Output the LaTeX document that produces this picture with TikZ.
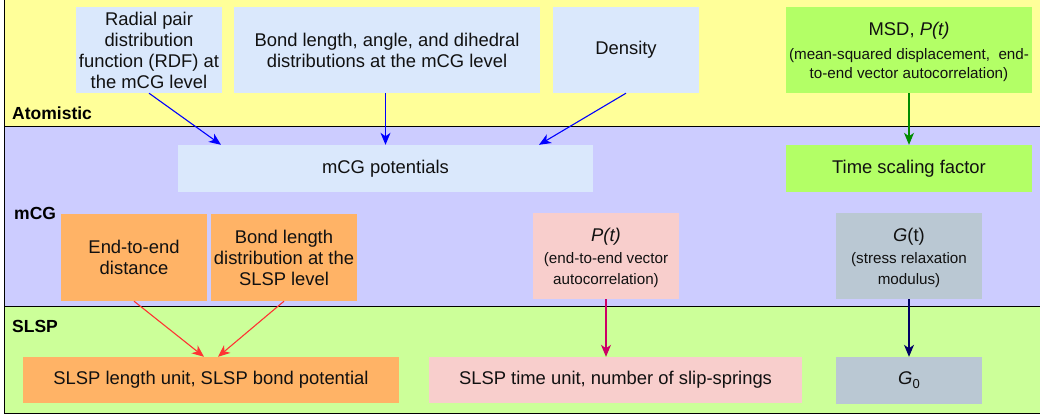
\documentclass[tikz,border=0pt]{standalone}
\usepackage{fontspec}
\setmainfont{Liberation Sans}
\usetikzlibrary{arrows.meta}
\definecolor{bandA}{HTML}{FFFF99}
\definecolor{bandB}{HTML}{CCCCFF}
\definecolor{bandC}{HTML}{CCFF99}
\definecolor{lblue}{HTML}{DAE8FC}
\definecolor{lgreen}{HTML}{B3FF66}
\definecolor{lorange}{HTML}{FFB366}
\definecolor{lpink}{HTML}{F8CECC}
\definecolor{lgray}{HTML}{BAC8D3}
\definecolor{cblue}{HTML}{0000FF}
\definecolor{cgreen}{HTML}{008C00}
\definecolor{cred}{HTML}{FF3333}
\definecolor{cmag}{HTML}{CC0066}
\definecolor{cnavy}{HTML}{000066}
\definecolor{txt}{HTML}{111111}
\newcommand{\mainf}{\fontsize{18.4}{21}\selectfont}
\newcommand{\smallf}{\fontsize{15.2}{20}\selectfont}
\newcommand{\boldf}{\fontsize{17.5}{20}\selectfont\bfseries}
\newcommand{\stk}[2]{\raisebox{#1}[\height][\depth]{\begin{tabular}{@{}c@{}}#2\end{tabular}}}
\tikzset{
  band/.style={draw=black, line width=1pt},
  box/.style={rectangle, inner sep=0pt, align=center, text=txt, font=\mainf},
  lbl/.style={anchor=west, inner sep=0pt, font=\boldf, text=black},
  arr/.style={line width=1.1pt, -{Stealth[length=12pt,width=10pt,inset=3.5pt]}},
}
\begin{document}
\begin{tikzpicture}[x=1pt,y=-1pt]
\useasboundingbox (0,0) rectangle (1040,414);
% bands
\path[band, fill=bandA] (4,-2) rectangle (1042,127);
\path[band, fill=bandB] (4,127) rectangle (1042,306);
\path[band, fill=bandC] (4,306) rectangle (1042,413);
\node[lbl] (atom) at (12,113) {Atomistic};
\node[lbl] (mcg) at (14,213) {mCG};
\node[lbl] (slsp) at (12,326) {SLSP};
% Atomistic boxes
\node[box, fill=lblue, minimum width=146pt, minimum height=86pt] (rdf) at (149,50)
  {Radial pair\\distribution\\function (RDF) at\\the mCG level};
\node[box, fill=lblue, minimum width=306pt, minimum height=86pt] (bond) at (387,50)
  {Bond length, angle, and dihedral\\distributions at the mCG level};
\node[box, fill=lblue, minimum width=146pt, minimum height=86pt] (dens) at (626,50)
  {Density};
\node[box, fill=lgreen, minimum width=246pt, minimum height=86pt] (msd) at (909,50)
  {\stk{-3pt}{MSD, \textit{P(t)}\\[3pt]\smallf (mean-squared displacement,~~end-\\[-2pt]\smallf to-end vector autocorrelation)}};
% mCG boxes
\node[box, fill=lblue, minimum width=415pt, minimum height=47pt] (pot) at (385.5,168.5)
  {mCG potentials};
\node[box, fill=lgreen, minimum width=246pt, minimum height=47pt] (tsf) at (909,168.5)
  {Time scaling factor};
\node[box, fill=lorange, minimum width=146pt, minimum height=87pt] (e2e) at (134,257.5)
  {End-to-end\\distance};
\node[box, fill=lorange, minimum width=146pt, minimum height=87pt] (bld) at (284,257.5)
  {Bond length\\distribution at the\\SLSP level};
\node[box, fill=lpink, minimum width=146pt, minimum height=86pt] (pt) at (606,256)
  {\stk{-3pt}{\textit{P(t)}\\[1pt]\smallf (end-to-end vector\\\smallf autocorrelation)}};
\node[box, fill=lgray, minimum width=146pt, minimum height=86pt] (gt) at (909,256)
  {\stk{-3pt}{\textit{G}(t)\\[1pt]\smallf (stress relaxation\\\smallf modulus)}};
% SLSP boxes
\node[box, fill=lorange, minimum width=376pt, minimum height=46pt] (slen) at (211,380)
  {SLSP length unit, SLSP bond potential};
\node[box, fill=lpink, minimum width=373pt, minimum height=46pt] (stime) at (615.5,380)
  {SLSP time unit, number of slip-springs};
\node[box, fill=lgray, minimum width=146pt, minimum height=47pt] (g0) at (909,380.5)
  {\textit{G}\raisebox{-4pt}{\fontsize{13}{13}\selectfont 0}};
% arrows
\draw[arr, cblue] (rdf.south) -- (pot.north -| 221,0);
\draw[arr, cblue] (bond.south -| pot.north) -- (pot.north);
\draw[arr, cblue] (dens.south) -- (pot.north -| 539,0);
\draw[arr, cgreen] (msd.south) -- (tsf.north);
\draw[arr, cred] (e2e.south) -- (slen.north -| 204,0);
\draw[arr, cred] (bld.south) -- (slen.north -| 218,0);
\draw[arr, cmag] (pt.south) -- (stime.north -| pt.south);
\draw[arr, cnavy] (gt.south) -- (g0.north);
\end{tikzpicture}
\end{document}
